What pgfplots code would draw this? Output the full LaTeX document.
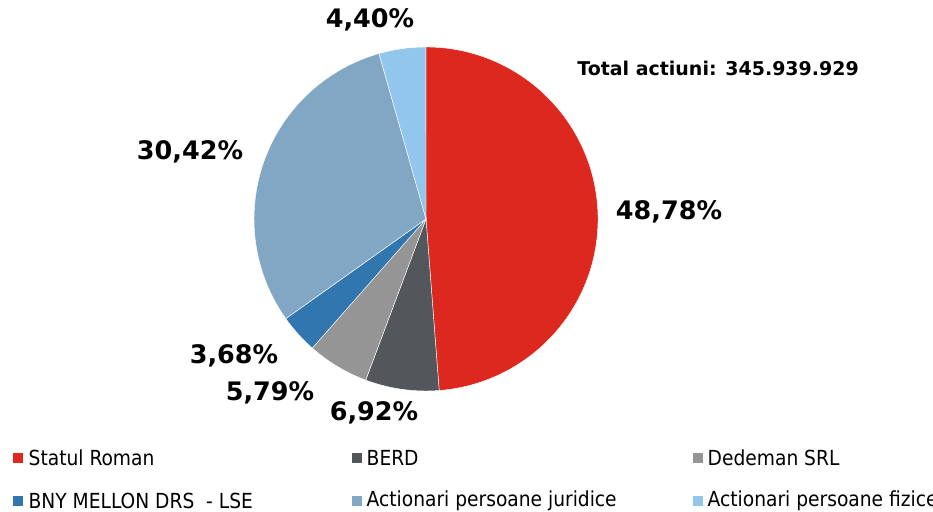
\documentclass[border=0pt]{standalone}
\usepackage{pgfplots}
\pgfplotsset{compat=1.18}
\usepackage{fontspec}
\setmainfont{DejaVu Sans}
\newfontfamily\legfont{DejaVu Sans Condensed}
\definecolor{cRed}{HTML}{DC281E}
\definecolor{cDark}{HTML}{53565A}
\definecolor{cGray}{HTML}{959595}
\definecolor{cBlue}{HTML}{3276B0}
\definecolor{cSteel}{HTML}{82A7C4}
\definecolor{cLight}{HTML}{93C6EC}
\begin{document}
\begin{tikzpicture}
\begin{axis}[width=9.33cm,height=5.11cm,scale only axis,hide axis,
  xmin=0,xmax=933,ymin=0,ymax=511,clip=false]
\coordinate (C) at (axis cs:426,292);
\tikzset{lab/.style={font=\bfseries\fontsize{7.25}{8}\selectfont,inner sep=0pt}}
\node[lab] at (axis cs:669,299) {48,78\%};
\node[lab] at (axis cs:374,98) {6,92\%};
\node[lab] at (axis cs:270,118) {5,79\%};
\node[lab] at (axis cs:234,155) {3,68\%};
\node[lab] at (axis cs:190,359) {30,42\%};
\node[lab] at (axis cs:370,491) {4,40\%};
\node[font=\bfseries\fontsize{5.4}{6}\selectfont,inner sep=0pt] at (axis cs:718,443) {Total actiuni: 345.939.929};
% legend
\tikzset{leg/.style={font=\legfont\fontsize{5.9}{7}\selectfont,anchor=west,inner sep=0pt},
         sq/.style={minimum size=0.1cm,inner sep=0pt}}
\node[sq,fill=cRed]   at (axis cs:18,53) {};  \node[leg] at (axis cs:28,53) {Statul Roman};
\node[sq,fill=cDark]  at (axis cs:357,53) {}; \node[leg] at (axis cs:366,53) {BERD};
\node[sq,fill=cGray]  at (axis cs:698,53) {}; \node[leg] at (axis cs:707,53) {Dedeman SRL};
\node[sq,fill=cBlue]  at (axis cs:18,10) {};  \node[leg] at (axis cs:28,10) {BNY MELLON DRS\ \ - LSE};
\node[sq,fill=cSteel] at (axis cs:357,10) {}; \node[leg] at (axis cs:366,10) {Actionari persoane juridice};
\node[sq,fill=cLight] at (axis cs:698,10) {}; \node[leg] at (axis cs:707,10) {Actionari persoane fizice};
\end{axis}
\def\r{1.72cm}
\gdef\cum{0}
\foreach \v/\c in {48.78/cRed,6.92/cDark,5.79/cGray,3.68/cBlue,30.42/cSteel,4.40/cLight}{
  \pgfmathsetmacro\sa{90-3.6*\cum}
  \pgfmathsetmacro\ea{90-3.6*(\cum+\v)}
  \filldraw[fill=\c,draw=white,line width=0.12pt] (C) -- ++(\sa:\r) arc[start angle=\sa,end angle=\ea,radius=\r] -- cycle;
  \pgfmathsetmacro\n{\cum+\v}\xdef\cum{\n}
}
\pgfresetboundingbox
\path[use as bounding box] (0,0) rectangle (9.33cm,5.11cm);
\end{tikzpicture}
\end{document}
